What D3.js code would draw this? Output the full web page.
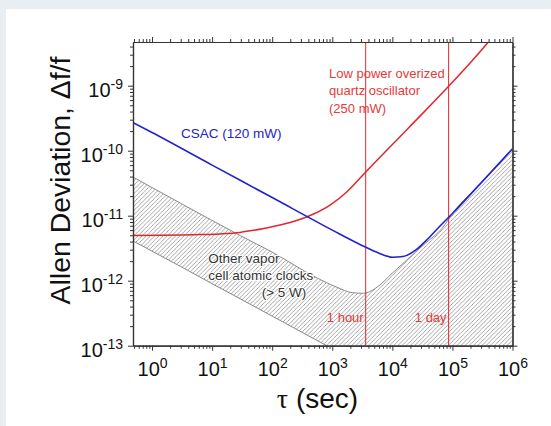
<!DOCTYPE html>
<html><head><meta charset="utf-8">
<script src="https://cdn.jsdelivr.net/npm/d3@7"></script>
<style>
html,body{margin:0;padding:0;background:#e9eef2;}
svg{display:block;}
</style></head><body>
<svg id="chart" width="551" height="426"></svg>
<script>
// ---- data ----
const xExponents = [0, 1, 2, 3, 4, 5, 6];
const yExponents = [-13, -12, -11, -10, -9];

const tauCsac = [0.48, 1, 10, 100, 1000, 3000, 6000, 10000, 15000, 25000, 40000, 60000, 100000, 300000, 1000000];
const csac    = [2.7e-10, 1.9e-10, 6.0e-11, 1.9e-11, 6.0e-12, 3.55e-12, 2.65e-12, 2.3e-12, 2.35e-12, 3.0e-12, 4.5e-12, 6.7e-12, 1.08e-11, 3.2e-11, 1.07e-10];

const tauQuartz = [0.48, 6.3, 13.5, 29, 46, 76, 198, 427, 918, 1762, 3648, 18240, 91200, 396000, 621000];
const quartz    = [4.95e-12, 5.12e-12, 5.25e-12, 5.53e-12, 5.9e-12, 6.43e-12, 7.84e-12, 1.007e-11, 1.46e-11, 2.34e-11, 4.75e-11, 2.2e-10, 1.03e-9, 4.7e-9, 7.9e-9];

const tauVaporTop = [0.48, 3, 30, 100, 560, 1200, 2150, 3300, 5300, 10000, 18900, 35900, 68000, 100000, 300000, 1000000];
const vaporTop    = [3.94e-11, 1.55e-11, 4.9e-12, 2.75e-12, 1.1e-12, 7.9e-13, 6.55e-13, 6.4e-13, 7.7e-13, 1.31e-12, 2.23e-12, 3.8e-12, 6.45e-12, 1.08e-11, 3.2e-11, 1.07e-10];

const tauVaporBottom = [0.48, 3, 10, 100, 1000, 1000000];
const vaporBottom    = [4.1e-12, 1.65e-12, 9.0e-13, 2.85e-13, 9.0e-14, 2.8e-15];

const markerTaus   = [3600, 86400];
const markerLabels = ["1 hour", "1 day"];

const csacLabel   = ["CSAC (120 mW)"];
const quartzLabel = ["Low power overized", "quartz oscillator", "(250 mW)"];
const vaporLabel  = ["Other vapor", "cell atomic clocks", "(> 5 W)"];

// ---- layout ----
const W = 551, H = 426;
const L = 133, R = 512.5, T = 42, B = 345.7;
const FONT = "'Liberation Sans', Arial, Helvetica, sans-serif";
const BLUE = "#2323c8", RED = "#e4262c", REDTXT = "#e53a3a";

const svg = d3.select("#chart");
svg.append("rect").attr("x", 6).attr("y", 9).attr("width", W - 6).attr("height", H - 9).attr("fill", "#fff");

const x = d3.scaleLog().domain([0.482, 1e6]).range([L, R]);
const y = d3.scaleLog().domain([1e-13, 4.7e-9]).range([B, T]);

const defs = svg.append("defs");
defs.append("clipPath").attr("id", "plotclip")
  .append("rect").attr("x", L).attr("y", T).attr("width", R - L).attr("height", B - T);
const pat = defs.append("pattern").attr("id", "hatch")
  .attr("patternUnits", "userSpaceOnUse").attr("width", 4.2).attr("height", 4.2);
pat.append("path").attr("d", "M-1,1 l2,-2 M0,4.2 l4.2,-4.2 M3.2,5.2 l2,-2")
  .attr("stroke", "#8e8e8e").attr("stroke-width", 0.8);

const plot = svg.append("g").attr("clip-path", "url(#plotclip)");

const smooth = d3.line().x(d => x(d[0])).y(d => y(d[1])).curve(d3.curveMonotoneX);
const straight = d3.line().x(d => x(d[0])).y(d => y(d[1]));

const topPts = tauVaporTop.map((t, i) => [t, vaporTop[i]]);
const botPts = tauVaporBottom.map((t, i) => [t, vaporBottom[i]]);
const areaD = smooth(topPts) + straight(botPts.slice().reverse()).replace(/^M/, "L") + "Z";

plot.append("path").attr("d", areaD).attr("fill", "url(#hatch)").attr("stroke", "none");
plot.append("path").attr("d", smooth(topPts)).attr("fill", "none").attr("stroke", "#8a8a8a").attr("stroke-width", 1);
plot.append("path").attr("d", straight(botPts)).attr("fill", "none").attr("stroke", "#8a8a8a").attr("stroke-width", 1);

// marker lines
plot.selectAll("line.marker").data(markerTaus).join("line").attr("class", "marker")
  .attr("x1", d => x(d)).attr("x2", d => x(d)).attr("y1", T).attr("y2", B)
  .attr("stroke", RED).attr("stroke-width", 1);

plot.append("path").attr("d", smooth(tauQuartz.map((t, i) => [t, quartz[i]])))
  .attr("fill", "none").attr("stroke", RED).attr("stroke-width", 1.5);
plot.append("path").attr("d", smooth(tauCsac.map((t, i) => [t, csac[i]])))
  .attr("fill", "none").attr("stroke", BLUE).attr("stroke-width", 1.6);

// annotations
const ann = svg.append("g").attr("font-family", FONT);
ann.append("text").attr("x", 181).attr("y", 138.3).attr("font-size", 13.5).attr("fill", BLUE).text(csacLabel[0]);
ann.selectAll("text.q").data(quartzLabel).join("text").attr("class", "q")
  .attr("x", 329).attr("y", (d, i) => 78 + i * 17.4).attr("font-size", 13).attr("fill", REDTXT).text(d => d);
const vx = [208.3, 208.3, 261.7];
ann.selectAll("text.v").data(vaporLabel).join("text").attr("class", "v")
  .attr("x", (d, i) => vx[i]).attr("y", (d, i) => 262.7 + i * 17)
  .attr("font-size", 13.5).attr("fill", "#333")
  .attr("stroke", "#fff").attr("stroke-width", 2).attr("paint-order", "stroke").attr("stroke-linejoin", "round")
  .text(d => d);
ann.selectAll("text.m").data(markerTaus).join("text").attr("class", "m")
  .attr("x", d => x(d) - 2).attr("y", 322.3).attr("text-anchor", "end")
  .attr("font-size", 13).attr("fill", REDTXT).text((d, i) => markerLabels[i]);

// axes
const majorX = xExponents.map(e => Math.pow(10, e));
const majorY = yExponents.map(e => Math.pow(10, e));
const isPow = v => Math.abs(Math.log10(v) - Math.round(Math.log10(v))) < 1e-9;
const minorX = x.ticks().filter(v => !isPow(v) && v >= x.domain()[0] && v <= x.domain()[1]);
const minorY = y.ticks().filter(v => !isPow(v) && v >= y.domain()[0] && v <= y.domain()[1]);

function styleAxis(g) {
  g.attr("font-family", FONT);
  g.select(".domain").attr("stroke", "#333").attr("stroke-width", 1.2);
  g.selectAll(".tick line").attr("stroke", "#333").attr("stroke-width", 1);
}
function supLabels(g, mainSize, supSize, yOff) {
  g.selectAll(".tick text").each(function(d) {
    const t = d3.select(this);
    t.text(null).attr("dy", null).attr("y", yOff).attr("fill", "#111").attr("font-size", mainSize);
    t.append("tspan").text("10");
    t.append("tspan").attr("dy", -8).attr("font-size", supSize).text(String(Math.round(Math.log10(d))));
  });
}

const gxB = svg.append("g").attr("transform", `translate(0,${B})`);
gxB.append("g").call(d3.axisBottom(x).tickValues(minorX).tickSize(3).tickSizeOuter(0).tickFormat("")).call(styleAxis);
const gxBm = gxB.append("g").call(d3.axisBottom(x).tickValues(majorX).tickSize(5).tickSizeOuter(0)).call(styleAxis);
supLabels(gxBm, 20, 14, 30.3);

const gxT = svg.append("g").attr("transform", `translate(0,${T})`);
gxT.append("g").call(d3.axisTop(x).tickValues(minorX).tickSize(3).tickSizeOuter(0).tickFormat("")).call(styleAxis);
gxT.append("g").call(d3.axisTop(x).tickValues(majorX).tickSize(5).tickSizeOuter(0).tickFormat("")).call(styleAxis);

const gyL = svg.append("g").attr("transform", `translate(${L},0)`);
gyL.append("g").call(d3.axisLeft(y).tickValues(minorY).tickSize(3).tickSizeOuter(0).tickFormat("")).call(styleAxis);
const gyLm = gyL.append("g").call(d3.axisLeft(y).tickValues(majorY).tickSize(5).tickSizeOuter(0).tickPadding(5)).call(styleAxis);
supLabels(gyLm, 20, 14, 10.3);

const gyR = svg.append("g").attr("transform", `translate(${R},0)`);
gyR.append("g").call(d3.axisRight(y).tickValues(minorY).tickSize(3).tickSizeOuter(0).tickFormat("")).call(styleAxis);
gyR.append("g").call(d3.axisRight(y).tickValues(majorY).tickSize(5).tickSizeOuter(0).tickFormat("")).call(styleAxis);

// axis titles
svg.append("text").attr("transform", "translate(70,180.5) rotate(-90)")
  .attr("text-anchor", "middle").attr("font-family", FONT).attr("font-size", 28.4).attr("fill", "#111")
  .text("Allen Deviation, \u0394f/f");
const xt = svg.append("text").attr("x", 317.5).attr("y", 408.3).attr("text-anchor", "middle")
  .attr("font-family", FONT).attr("font-size", 28).attr("fill", "#111");
xt.append("tspan").attr("font-family", "'Liberation Serif', 'Times New Roman', serif").text("\u03c4");
xt.append("tspan").text(" (sec)");
</script>
</body></html>
